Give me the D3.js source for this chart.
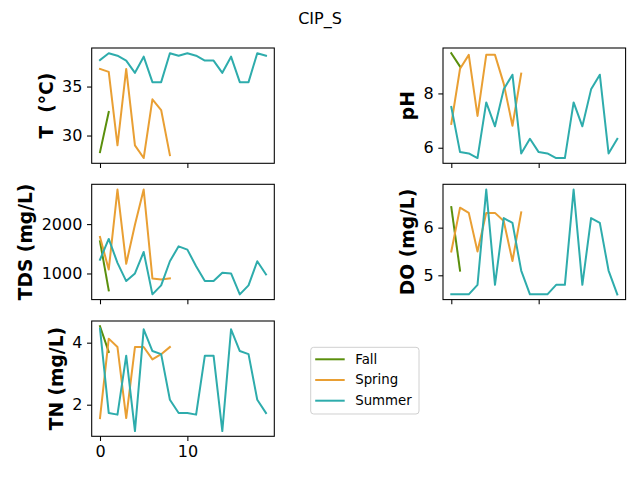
<!DOCTYPE html>
<html><head><meta charset="utf-8">
<script src="https://cdn.jsdelivr.net/npm/d3@7"></script>
<style>body{margin:0;background:#fff}svg{display:block;font-family:"DejaVu Sans",sans-serif}</style>
</head><body>
<script>
const seasons = ["Fall", "Spring", "Summer"];
const seasonColors = ["#5a8f0c", "#e99f33", "#2eacac"];
const xTicks = [0, 10];

const tFall = [28.3, 32.4];
const tSpring = [36.8, 36.5, 29.0, 36.8, 29.0, 27.7, 33.7, 32.6, 28.0];
const tSummer = [37.7, 38.4, 38.15, 37.65, 36.4, 38.05, 35.45, 35.45, 38.4, 38.15, 38.4, 38.15, 37.65, 37.65, 36.4, 38.05, 35.45, 35.45, 38.4, 38.15];
const tTicks = [30, 35];

const phFall = [9.48, 8.99];
const phSpring = [6.88, 8.91, 9.42, 7.17, 9.42, 9.42, 8.36, 6.81, 8.73];
const phSummer = [7.5, 5.84, 5.79, 5.62, 7.67, 6.79, 8.15, 8.69, 5.79, 6.33, 5.84, 5.79, 5.62, 5.62, 7.67, 6.79, 8.15, 8.69, 5.79, 6.33];
const phTicks = [6, 8];

const tdsFall = [1650, 658];
const tdsSpring = [1738, 1080, 2700, 1195, 1986, 2700, 899, 880, 899];
const tdsSummer = [1280, 1700, 1215, 846, 1000, 1436, 577, 760, 1248, 1550, 1483, 1148, 846, 846, 1013, 1000, 577, 760, 1248, 980];
const tdsTicks = [1000, 2000];

const doFall = [6.43, 5.1];
const doSpring = [5.5, 6.42, 6.31, 5.5, 6.31, 6.31, 6.14, 5.3, 6.32];
const doSummer = [4.6, 4.6, 4.6, 4.8, 6.8, 4.8, 6.2, 6.1, 5.1, 4.6, 4.6, 4.6, 4.8, 4.8, 6.8, 4.8, 6.2, 6.1, 5.1, 4.6];
const doTicks = [5, 6];

const tnFall = [4.53, 3.70];
const tnSpring = [1.57, 4.13, 3.86, 1.57, 3.86, 3.86, 3.46, 3.63, 3.86];
const tnSummer = [4.45, 1.73, 1.68, 3.58, 1.15, 4.43, 3.73, 3.63, 2.16, 1.73, 1.73, 1.68, 3.58, 3.58, 1.15, 4.43, 3.73, 3.63, 2.16, 1.73];
const tnTicks = [2, 4];

const labels = ["T  (°C)", "pH", "TDS (mg/L)", "DO (mg/L)", "TN (mg/L)"];

// layout
const W = 640, H = 480;
const colX = [91.7, 443];
const rowY = [48, 184.3, 321];
const aw = 182.6, ah = 115.3;

const panelData = [
  {series: [tFall, tSpring, tSummer], ticks: tTicks, col: 0, row: 0, xlab: false},
  {series: [phFall, phSpring, phSummer], ticks: phTicks, col: 1, row: 0, xlab: false},
  {series: [tdsFall, tdsSpring, tdsSummer], ticks: tdsTicks, col: 0, row: 1, xlab: false},
  {series: [doFall, doSpring, doSummer], ticks: doTicks, col: 1, row: 1, xlab: false},
  {series: [tnFall, tnSpring, tnSummer], ticks: tnTicks, col: 0, row: 2, xlab: true}
];

const svg = d3.select("body").append("svg").attr("width", W).attr("height", H);

svg.append("text").attr("x", 320).attr("y", 18).attr("text-anchor", "middle")
  .attr("dominant-baseline", "central").attr("font-size", 16).text("CIP_S");

const x = d3.scaleLinear().domain([-0.95, 19.95]).range([0, aw]);
const tickLen = 4.67, tickPad = 4.67;

panelData.forEach((p, i) => {
  const g = svg.append("g").attr("transform", `translate(${colX[p.col]},${rowY[p.row]})`);
  const all = p.series.flat();
  const mn = d3.min(all), mx = d3.max(all), m = (mx - mn) * 0.05;
  const y = d3.scaleLinear().domain([mn - m, mx + m]).range([ah, 0]);

  const line = d3.line().x((d, j) => x(j)).y(d => y(d));
  p.series.forEach((s, k) => {
    g.append("path").datum(s).attr("d", line).attr("fill", "none")
      .attr("stroke", seasonColors[k]).attr("stroke-width", 2)
      .attr("stroke-linejoin", "round").attr("stroke-linecap", "square");
  });

  const ya = g.append("g").call(d3.axisLeft(y).tickValues(p.ticks).tickSize(tickLen).tickPadding(tickPad).tickFormat(d3.format("d")));
  const xa = g.append("g").attr("transform", `translate(0,${ah})`)
    .call(d3.axisBottom(x).tickValues(xTicks).tickSize(tickLen).tickPadding(tickPad).tickFormat(p.xlab ? d3.format("d") : () => ""));
  [ya, xa].forEach(a => {
    a.select(".domain").remove();
    a.attr("font-family", null).attr("font-size", 16);
    a.selectAll("line").attr("stroke", "#000").attr("stroke-width", 1.07);
    a.selectAll("text").attr("fill", "#000");
  });

  g.append("rect").attr("width", aw).attr("height", ah).attr("fill", "none")
    .attr("stroke", "#000").attr("stroke-width", 1.07);

  const bb = ya.node().getBBox();
  g.append("text")
    .attr("transform", `translate(${bb.x - 9.5},${ah / 2}) rotate(-90)`)
    .attr("text-anchor", "middle").attr("font-size", 18.67).attr("font-weight", "bold")
    .style("white-space", "pre").text(labels[i]);
});

// legend
const lg = svg.append("g").attr("transform", "translate(310.7,347.3)");
lg.append("rect").attr("width", 108.3).attr("height", 66.7).attr("rx", 3)
  .attr("fill", "#fff").attr("fill-opacity", 0.8).attr("stroke", "#d0d0d0").attr("stroke-width", 1);
seasons.forEach((s, k) => {
  const yy = 12 + k * 20.7;
  lg.append("line").attr("x1", 4.5).attr("x2", 34).attr("y1", yy).attr("y2", yy)
    .attr("stroke", seasonColors[k]).attr("stroke-width", 2);
  lg.append("text").attr("x", 44.5).attr("y", yy).attr("dominant-baseline", "central")
    .attr("font-size", 13.33).text(s);
});
</script>
</body></html>
